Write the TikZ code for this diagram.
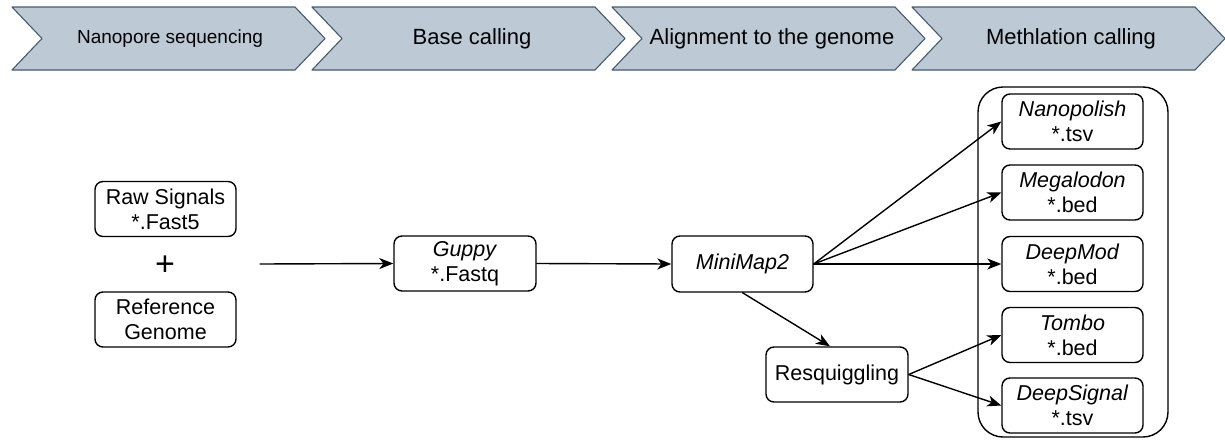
\documentclass[tikz,border=0pt]{standalone}
\usepackage{fontspec}
\setmainfont{Liberation Sans}
\usetikzlibrary{arrows.meta}
\definecolor{stagefill}{RGB}{189,202,214}
\definecolor{stageedge}{RGB}{70,90,110}
\begin{document}
\begin{tikzpicture}[x=1pt, y=-1pt, line join=round, line cap=round,
    >={Stealth[length=14pt,width=11pt,inset=4pt]},
    tool/.style={draw, line width=1.4pt, rounded corners=8pt, align=center,
        minimum width=141pt, minimum height=55pt, inner sep=0pt,
        font=\fontsize{21.5}{25}\selectfont},
    stage/.style={font=\fontsize{22}{26}\selectfont},
    flow/.style={->, line width=1.4pt}]
        \def\ytop{7} \def\ybot{70} \def\ymid{38.5}
        \useasboundingbox (0,0) rectangle (1225,439);
        % pipeline stages
        \foreach \s/\cx/\lbl in {12/170/{\fontsize{19}{22}\selectfont Nanopore sequencing},
                312/472/Base calling, 612/772/Alignment to the genome, 912/1071/Methlation calling}{
            \draw[fill=stagefill, draw=stageedge, line width=1.1pt]
                (\s,\ytop) -- (\s+283,\ytop) -- (\s+313,\ymid) -- (\s+283,\ybot)
                -- (\s,\ybot) -- (\s+30,\ymid) -- cycle;
            \node[stage] at (\cx,\ymid) {\lbl};
        }
        % inputs
        \node[tool] (raw) at (165.5,209) {Raw Signals\\*.Fast5};
        \node[font=\fontsize{34}{36}\selectfont] (plus) at (165,266) {+};
        \node[tool] (refg) at (165.5,319.5) {Reference\\Genome};
        \coordinate (inp) at (260,264);
        % processing
        \node[tool, minimum width=142pt] (guppy) at (465,263.5) {\textit{Guppy}\\*.Fastq};
        \node[tool, minimum height=56pt] (mm) at (742.5,264) {\textit{MiniMap2}};
        \node[tool, minimum width=142pt] (rs) at (837,374.5) {Resquiggling};
        % methylation callers
        \draw[line width=1.4pt, rounded corners=25pt] (978,87) rectangle (1168,437);
        \node[tool] (np) at (1072.5,121.5) {\textit{Nanopolish}\\*.tsv};
        \node[tool] (mg) at (1072.5,192.5) {\textit{Megalodon}\\*.bed};
        \node[tool] (dm) at (1072.5,264) {\textit{DeepMod}\\*.bed};
        \node[tool] (tb) at (1072.5,335) {\textit{Tombo}\\*.bed};
        \node[tool] (ds) at (1072.5,405.5) {\textit{DeepSignal}\\*.tsv};
        % arrows
        \draw[flow] (inp) -- (guppy.west);
        \draw[flow] (guppy.east) -- (mm.west);
        \foreach \t in {np,mg,dm}
            \draw[flow] (mm.east) -- (\t.west);
        \draw[flow] (mm.south) -- ([xshift=-7pt]rs.north);
        \foreach \t in {tb,ds}
            \draw[flow] (rs.east) -- (\t.west);
    \end{tikzpicture}
\end{document}
